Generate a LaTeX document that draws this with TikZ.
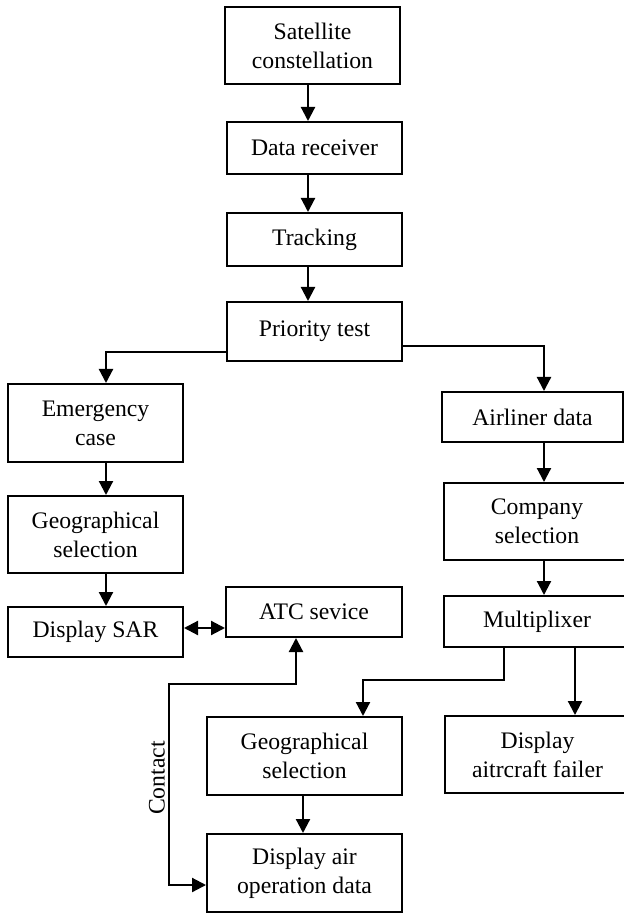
\documentclass[tikz,border=0pt]{standalone}
\usepackage{fontspec}
\setmainfont{Liberation Serif}
\usetikzlibrary{arrows.meta, calc}

\begin{document}
\begin{tikzpicture}[x=0.5pt, y=-0.5pt,
		box/.style={draw, black, line width=1pt, align=center, inner sep=0pt,
			font=\fontsize{11.85}{14.5}\selectfont},
		arr/.style={black, line width=1.1pt, -{Triangle[length=7pt,width=7pt]}},
		darr/.style={black, line width=1.1pt, {Triangle[length=7pt,width=7pt]}-{Triangle[length=7pt,width=7pt]}}]
		\useasboundingbox (0,0) rectangle (624,913);
		%
		% main chain
		\node[box, minimum width=87.5pt, minimum height=38.5pt] (sat) at (312.5,45.5) {Satellite\\constellation};
		\node[box, minimum width=87.5pt, minimum height=26pt] (recv) at (314.5,148) {Data receiver};
		\node[box, minimum width=87.5pt, minimum height=26.5pt] (track) at (314.5,239.5) {Tracking};
		\node[box, minimum width=87.5pt, minimum height=29.5pt] (prio) at (314.5,331.5) {Priority test};
		%
		% emergency branch
		\node[box, minimum width=87.5pt, minimum height=39pt] (emerg) at (95.5,423) {Emergency\\case};
		\node[box, minimum width=87.5pt, minimum height=38.5pt] (geoA) at (95.5,534.5) {Geographical\\selection};
		\node[box, minimum width=87.5pt, minimum height=25pt] (sar) at (95.5,632) {Display SAR};
		\node[box, minimum width=88pt, minimum height=25pt] (atc) at (314,612) {ATC sevice};
		%
		% airliner branch
		\node[box, minimum width=90.5pt, minimum height=25pt] (airl) at (532.5,417) {Airliner data};
		\node[box, minimum width=93pt, minimum height=38.5pt] (comp) at (537,521.5) {Company\\selection};
		\node[box, minimum width=93pt, minimum height=25.5pt] (mux) at (537,621.5) {Multiplixer};
		\node[box, minimum width=92.5pt, minimum height=38.5pt] (fail) at (537.5,754.5) {Display\\aitrcraft failer};
		\node[box, minimum width=97.5pt, minimum height=39pt] (geoB) at (304.5,756) {Geographical\\selection};
		\node[box, minimum width=97.5pt, minimum height=39pt] (dair) at (304.5,873) {Display air\\operation data};
		\node[rotate=90, font=\fontsize{11.85}{14.5}\selectfont, inner sep=0pt] (contact) at (157,778) {Contact};
		%
		% corner points
		\coordinate (m1) at (308,0);
		\coordinate (e1) at (106,352);
		\coordinate (a1) at (544,346);
		\coordinate (x1) at (504,680);
		\coordinate (x2) at (363,680);
		\coordinate (f1) at (575,0);
		\coordinate (g1) at (303,0);
		\coordinate (s1) at (0,628);
		\coordinate (k1) at (296,684);
		\coordinate (k2) at (169,885);
		%
		\draw[arr] (m1 |- sat.south) -- (m1 |- recv.north);
		\draw[arr] (m1 |- recv.south) -- (m1 |- track.north);
		\draw[arr] (m1 |- track.south) -- (m1 |- prio.north);
		\draw[arr] (prio.west |- e1) -- (e1) -- (e1 |- emerg.north);
		\draw[arr] (e1 |- emerg.south) -- (e1 |- geoA.north);
		\draw[arr] (e1 |- geoA.south) -- (e1 |- sar.north);
		\draw[darr] (sar.east |- s1) -- (atc.west |- s1);
		\draw[arr] (prio.east |- a1) -- (a1) -- (a1 |- airl.north);
		\draw[arr] (a1 |- airl.south) -- (a1 |- comp.north);
		\draw[arr] (a1 |- comp.south) -- (a1 |- mux.north);
		\draw[arr] (x1 |- mux.south) -- (x1) -- (x2) -- (x2 |- geoB.north);
		\draw[arr] (f1 |- mux.south) -- (f1 |- fail.north);
		\draw[arr] (g1 |- geoB.south) -- (g1 |- dair.north);
		\draw[darr] (k1 |- atc.south) -- (k1) -| (k2) -- (k2 -| dair.west);
	\end{tikzpicture}
\end{document}
